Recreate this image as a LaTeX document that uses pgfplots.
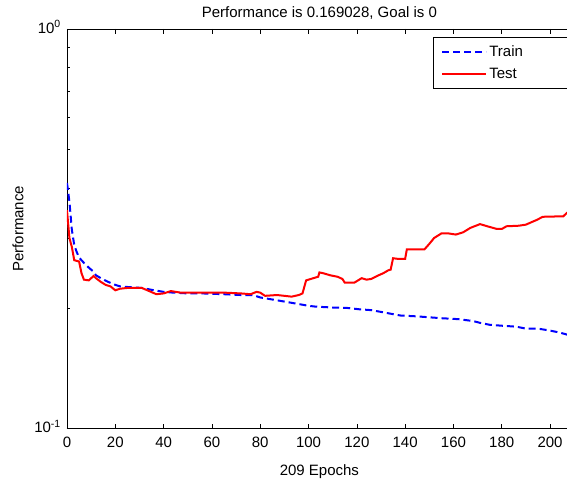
\documentclass[border=0pt]{standalone}
\usepackage{fontspec}
\setmainfont{Liberation Sans}
\usepackage{pgfplots}
\pgfplotsset{compat=1.18}

\begin{document}
\begin{tikzpicture}
\begin{axis}[
  scale only axis,
  width=504.8pt, height=399.7pt,
  ymode=log,
  xmin=0, xmax=209,
  ymin=0.1, ymax=1,
  xtick={0,20,...,200},
  ytick={0.1,1},
  yticklabels={10\textsuperscript{-1},10\textsuperscript{0}},
  /pgf/number format/assume math mode=true,
  font=\fontsize{15}{18}\selectfont,
  tick align=inside,
  major tick length=5pt,
  minor tick length=3pt,
  tick style={black, line width=0.6pt},
  axis line style={line width=0.8pt},
  xticklabel style={anchor=base, yshift=-18.3pt, inner sep=0pt},
  yticklabel style={xshift=-6pt, yshift=2pt, inner sep=0pt},
  title={Performance is 0.169028, Goal is 0},
  title style={at={(axis description cs:0.5,1)}, anchor=base, yshift=5pt, inner sep=0pt},
  xlabel={209 Epochs},
  xlabel style={at={(axis description cs:0.5,0)}, anchor=base, yshift=-46.3pt, inner sep=0pt},
  ylabel={Performance},
  ylabel style={at={(axis description cs:-0.097,0.5)}, anchor=center, inner sep=0pt},
  legend style={at={(rel axis cs:0.725,0.98)}, anchor=north west,
    draw=black, line width=0.8pt, inner xsep=8pt, inner ysep=6.5pt,
    row sep=6pt, cells={anchor=west}, font=\fontsize{15}{18}\selectfont},
  legend image code/.code={\draw[#1] (0pt,0pt) -- (44pt,0pt);},
]
\addplot[blue, line width=2pt, dash pattern=on 7pt off 4pt] coordinates {
 (0,0.412) (1,0.370) (2,0.315) (3,0.288) (4,0.277) (5,0.268) (7,0.260)
 (9,0.253) (11,0.247) (12,0.242) (14,0.238) (17,0.233) (20,0.229)
 (22,0.227) (26,0.226) (31,0.225) (36,0.222) (40,0.220) (44,0.219)
 (50,0.218) (56,0.218) (65,0.217) (72,0.216) (77,0.216) (80,0.213)
 (84,0.211) (88,0.209) (92,0.207) (96,0.205) (100,0.203) (103,0.202)
 (110,0.201) (116,0.2005) (121,0.199) (126,0.198) (130,0.196)
 (134,0.194) (138,0.192) (145,0.191) (150,0.190) (155,0.189)
 (162,0.188) (168,0.186) (171,0.184) (175,0.182) (180,0.181)
 (186,0.180) (190,0.178) (195,0.178) (200,0.176) (204,0.174)
 (207,0.172) (209,0.169)};
\addlegendentry{\makebox[80pt][l]{Train}}
\addplot[red, line width=2pt] coordinates {
 (0,0.352) (1,0.300) (2,0.285) (3,0.264) (5,0.262) (6,0.245) (7,0.236)
 (9,0.235) (11,0.241) (12,0.238) (14,0.233) (16,0.229) (18,0.227)
 (20,0.222) (22,0.224) (25,0.225) (31,0.225) (34,0.221) (37,0.217)
 (40,0.218) (43,0.221) (47,0.219) (55,0.219) (65,0.219) (72,0.218)
 (76,0.217) (78.5,0.220) (80,0.219) (82,0.215) (87,0.216) (90,0.215)
 (93,0.214) (96,0.216) (97.5,0.218) (99,0.235) (102,0.238) (104,0.240)
 (104.5,0.246) (106,0.245) (109,0.242) (112,0.240) (114,0.237)
 (115,0.232) (119,0.232) (121,0.236) (122,0.238) (124,0.236)
 (126,0.237) (129,0.242) (131,0.245) (133,0.249) (134,0.250)
 (135,0.267) (137,0.266) (140,0.266) (140.7,0.281) (148,0.281)
 (150,0.290) (152,0.300) (155,0.308) (158,0.308) (161,0.306)
 (164,0.310) (167,0.318) (171,0.325) (174,0.321) (178,0.316)
 (180,0.316) (182,0.321) (187,0.322) (190,0.324) (192,0.328)
 (194.5,0.333) (197,0.339) (205.5,0.340) (207,0.347) (209,0.350)};
\addlegendentry{Test}
\end{axis}
\pgfresetboundingbox
\path ([xshift=-67pt,yshift=-54.3pt]current axis.south west) rectangle ([xshift=-4.8pt,yshift=29pt]current axis.north east);
\end{tikzpicture}
\end{document}
